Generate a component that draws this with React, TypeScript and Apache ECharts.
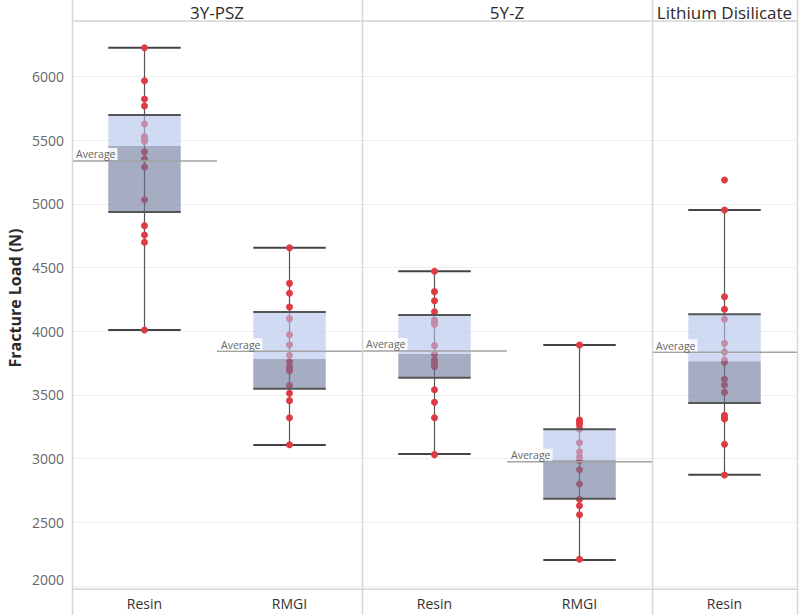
import React, { useEffect, useRef } from 'react';
import * as echarts from 'echarts';

// ---- data ----
const panelNames = ['3Y-PSZ', '5Y-Z', 'Lithium Disilicate'];
const panelCategoryCounts = [2, 2, 1];
const categoryLabels = ['Resin', 'RMGI', 'Resin', 'RMGI', 'Resin'];

const points3YPSZResin = [6225, 5966, 5822, 5768, 5626, 5527, 5511, 5490, 5409, 5351, 5289, 5032, 4828, 4755, 4697, 4009];
const points3YPSZRMGI = [4655, 4375, 4297, 4189, 4098, 3972, 3893, 3810, 3760, 3721, 3705, 3689, 3575, 3512, 3454, 3320, 3108];
const points5YZResin = [4470, 4310, 4239, 4152, 4087, 4072, 4053, 3886, 3820, 3773, 3755, 3739, 3721, 3540, 3441, 3320, 3030];
const points5YZRMGI = [3891, 3302, 3284, 3263, 3229, 3124, 3053, 3014, 2982, 2912, 2800, 2679, 2629, 2558, 2208];
const pointsLDResin = [5187, 4951, 4270, 4171, 4093, 3904, 3836, 3773, 3755, 3622, 3577, 3520, 3339, 3320, 3310, 3111, 2870];
const pointsByCategory = [points3YPSZResin, points3YPSZRMGI, points5YZResin, points5YZRMGI, pointsLDResin];

const whiskerLow = [4009, 3106, 3035, 2203, 2873];
const quartile1 = [4935, 3548, 3634, 2684, 3436];
const medians = [5453, 3781, 3820, 2988, 3763];
const quartile3 = [5697, 4150, 4126, 3229, 4132];
const whiskerHigh = [6225, 4655, 4470, 3891, 4951];
const averages = [5336, 3841, 3844, 2975, 3834];

const yAxisTitle = 'Fracture Load (N)';
const averageLabel = 'Average';
const Y_MIN = 1975;
const Y_MAX = 6435;
const Y_STEP = 500;
const Y_LOWEST_TICK = 2000;

// ---- layout / style ----
const W = 800;
const H = 615;
const GRID_LEFT = 72;
const GRID_RIGHT = 797;
const GRID_TOP = 21;
const GRID_BOTTOM = 589;
const FONT = '"Open Sans", "Noto Sans", sans-serif';
const BORDER = '#d6d6d6';

export default function App() {
  const ref = useRef<HTMLDivElement>(null);

  useEffect(() => {
    document.body.style.margin = '0';
    if (!ref.current) return;
    const chart = echarts.init(ref.current, null, { renderer: 'svg' });

    const nCat = categoryLabels.length;
    const catW = (GRID_RIGHT - GRID_LEFT) / nCat;

    const boxData = categoryLabels.map((_, i) => [
      i, whiskerLow[i], quartile1[i], medians[i], quartile3[i], whiskerHigh[i], averages[i],
    ]);
    const scatterData: number[][] = [];
    pointsByCategory.forEach((arr, i) => arr.forEach((v) => scatterData.push([i, v])));

    const graphics: any[] = [];
    let acc = 0;
    const bounds = [0];
    panelCategoryCounts.forEach((c) => { acc += c; bounds.push(acc); });
    bounds.forEach((b) => {
      const x = Math.round(GRID_LEFT + b * catW) + 0.5;
      graphics.push({
        type: 'line', z: 10,
        shape: { x1: x, y1: 0, x2: x, y2: H },
        style: { stroke: BORDER, lineWidth: 1.5 },
      });
    });
    panelNames.forEach((name, p) => {
      const cx = GRID_LEFT + ((bounds[p] + bounds[p + 1]) / 2) * catW;
      graphics.push({
        type: 'text', z: 10, x: cx, y: 12,
        style: { text: name, fill: '#2b2b2b', fontSize: 17, fontFamily: FONT, align: 'center', verticalAlign: 'middle' },
      });
    });
    graphics.push({
      type: 'line', z: 10,
      shape: { x1: GRID_LEFT, y1: GRID_TOP, x2: GRID_RIGHT, y2: GRID_TOP },
      style: { stroke: BORDER, lineWidth: 1.5 },
    });
    graphics.push({
      type: 'text', z: 10, x: 15, y: 298, rotation: Math.PI / 2,
      style: { text: yAxisTitle, fill: '#2b2b2b', fontSize: 16, fontWeight: 'bold', fontFamily: FONT, align: 'center', verticalAlign: 'middle' },
    });

    chart.setOption({
      animation: false,
      textStyle: { fontFamily: FONT },
      grid: { left: GRID_LEFT, right: W - GRID_RIGHT, top: GRID_TOP, bottom: H - GRID_BOTTOM, containLabel: false },
      xAxis: {
        type: 'category',
        data: categoryLabels.map((_, i) => String(i)),
        axisTick: { show: false },
        axisLine: { show: true, lineStyle: { color: BORDER, width: 1.5 } },
        axisLabel: {
          color: '#333', fontSize: 14, margin: 7, fontFamily: FONT,
          formatter: (_v: string, idx: number) => categoryLabels[idx],
        },
        splitLine: { show: false },
      },
      yAxis: {
        type: 'value',
        min: Y_MIN,
        max: Y_MAX,
        splitNumber: 9,
        minInterval: Y_STEP,
        maxInterval: Y_STEP,
        axisLine: { show: false },
        axisTick: { show: false },
        axisLabel: {
          color: '#666', fontSize: 14, margin: 8, fontFamily: FONT,
          showMinLabel: false, showMaxLabel: false,
          formatter: (v: number) => {
            if (v % Y_STEP !== 0) return '';
            return v === Y_LOWEST_TICK ? `{low|${v}}` : String(v);
          },
          rich: { low: { color: '#666', fontSize: 14, fontFamily: FONT, padding: [0, 0, 13, 0] } },
        },
        splitLine: { show: true, lineStyle: { color: '#efefef', width: 1 } },
      },
      graphic: graphics,
      series: [
        {
          type: 'custom',
          z: 2,
          data: boxData,
          encode: { x: 0, y: [1, 5] },
          renderItem: (_params: any, api: any) => {
            const i = api.value(0);
            const bw = api.size([1, 0])[0];
            const half = bw / 4;
            const pLow = api.coord([i, api.value(1)]);
            const pHigh = api.coord([i, api.value(5)]);
            const cx = pLow[0];
            return {
              type: 'group',
              children: [
                { type: 'line', shape: { x1: cx, y1: pLow[1], x2: cx, y2: pHigh[1] }, style: { stroke: '#555', lineWidth: 1.2 } },
                { type: 'line', shape: { x1: cx - half, y1: pHigh[1], x2: cx + half, y2: pHigh[1] }, style: { stroke: '#444', lineWidth: 2 } },
                { type: 'line', shape: { x1: cx - half, y1: pLow[1], x2: cx + half, y2: pLow[1] }, style: { stroke: '#444', lineWidth: 2 } },
              ],
            };
          },
        },
        {
          type: 'scatter',
          z: 3,
          data: scatterData,
          symbol: 'circle',
          symbolSize: 7,
          itemStyle: { color: '#de3b45', opacity: 1 },
        },
        {
          type: 'custom',
          z: 4,
          data: boxData,
          encode: { x: 0, y: [2, 3, 4, 6] },
          renderItem: (_params: any, api: any) => {
            const i = api.value(0);
            const bw = api.size([1, 0])[0];
            const half = bw / 4;
            const pQ1 = api.coord([i, api.value(2)]);
            const yMed = api.coord([i, api.value(3)])[1];
            const yQ3 = api.coord([i, api.value(4)])[1];
            const yAvg = api.coord([i, api.value(6)])[1];
            const cx = pQ1[0];
            const yQ1 = pQ1[1];
            return {
              type: 'group',
              children: [
                { type: 'rect', shape: { x: cx - half, y: yQ3, width: 2 * half, height: yMed - yQ3 }, style: { fill: 'rgba(177,193,233,0.6)' } },
                { type: 'rect', shape: { x: cx - half, y: yMed, width: 2 * half, height: yQ1 - yMed }, style: { fill: 'rgba(107,118,153,0.6)' } },
                { type: 'line', shape: { x1: cx - half, y1: yQ3, x2: cx + half, y2: yQ3 }, style: { stroke: '#555', lineWidth: 2 } },
                { type: 'line', shape: { x1: cx - half, y1: yQ1, x2: cx + half, y2: yQ1 }, style: { stroke: '#555', lineWidth: 2 } },
                { type: 'line', shape: { x1: cx - bw / 2, y1: yAvg, x2: cx + bw / 2, y2: yAvg }, style: { stroke: '#a3a3a3', lineWidth: 1.5 } },
                {
                  type: 'text', x: cx - bw / 2 + 2, y: yAvg - 1,
                  style: {
                    text: averageLabel, fill: '#666', fontSize: 10.5, fontFamily: FONT,
                    align: 'left', verticalAlign: 'bottom',
                    backgroundColor: 'rgba(255,255,255,0.85)', padding: [1, 2, 0, 2],
                  },
                },
              ],
            };
          },
        },
      ],
    });

    return () => chart.dispose();
  }, []);

  return <div ref={ref} style={{ width: W, height: H }} />;
}
